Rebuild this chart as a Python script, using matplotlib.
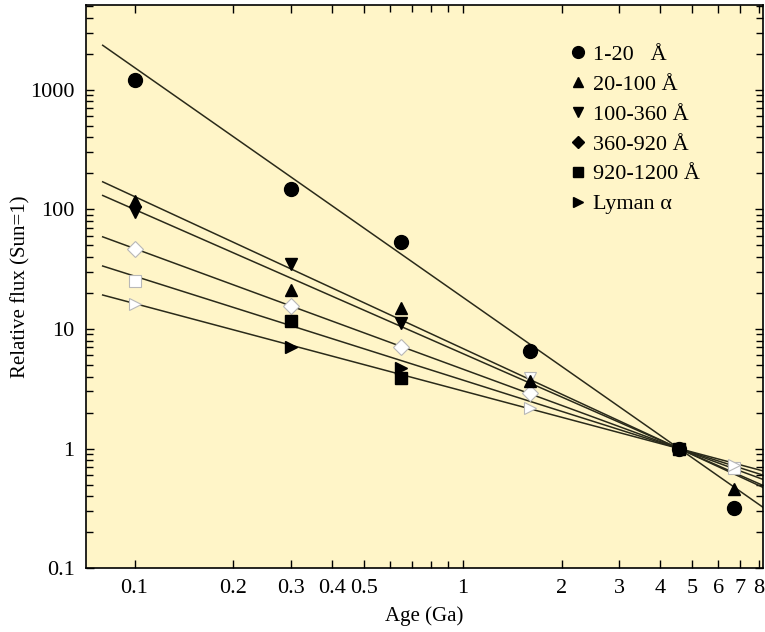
import numpy as np
import matplotlib
matplotlib.use("Agg")
import matplotlib.pyplot as plt
from matplotlib.ticker import FixedLocator, NullFormatter, LogLocator

plt.rcParams['font.family'] = ['Liberation Serif', 'DejaVu Serif']

# bands and marker shapes
bands = ['1-20   Å', '20-100 Å', '100-360 Å', '360-920 Å', '920-1200 Å', 'Lyman α']
shapes = ['o', '^', 'v', 'D', 's', '>']
sizes = [10, 9, 9, 8, 8.5, 9]

# filled points (age in Ga, relative flux)
filled_age = [
    [0.1, 0.3, 0.65, 1.6, 4.56, 6.7],
    [0.1, 0.3, 0.65, 1.6, 6.7],
    [0.1, 0.3, 0.65],
    [],
    [0.3, 0.65, 4.56],
    [0.3, 0.65],
]
filled_flux = [
    [1200, 147, 53, 6.6, 1.0, 0.32],
    [118, 21, 15, 3.7, 0.46],
    [95, 35, 11.3],
    [],
    [11.7, 3.9, 1.0],
    [7.0, 4.7],
]

# open points
open_age = [
    [],
    [],
    [1.6],
    [0.1, 0.3, 0.65, 1.6],
    [0.1, 6.7],
    [0.1, 1.6, 6.7],
]
open_flux = [
    [],
    [],
    [3.9],
    [47, 15.5, 7.0, 2.9],
    [25, 0.69],
    [16.2, 2.2, 0.73],
]

# power-law fit exponents, all normalised to the present Sun
sun_age = 4.56
fit_slope = [-1.92, -1.27, -1.205, -1.008, -0.869, -0.731]

fig = plt.figure(figsize=(7.65, 6.32), dpi=100)
ax = fig.add_axes([0.112, 0.101, 0.885, 0.891])
ax.set_facecolor('#fff5c8')

xfit = np.logspace(np.log10(0.08), np.log10(9), 200)
for s in fit_slope:
    ax.plot(xfit, (xfit / sun_age) ** s, color='#2a2a1a', lw=1.1, zorder=2)

for i in range(len(bands)):
    if open_age[i]:
        ax.plot(open_age[i], open_flux[i], ls='none', marker=shapes[i], ms=sizes[i],
                mfc='white', mec='#b8b8b8', mew=0.8, zorder=3)
    if filled_age[i]:
        ax.plot(filled_age[i], filled_flux[i], ls='none', marker=shapes[i], ms=sizes[i],
                mfc='black', mec='black', zorder=4)

# legend handles
handles = [ax.plot([], [], ls='none', marker=shapes[i], ms=sizes[i] - 1.5,
                   mfc='black', mec='black')[0] for i in range(len(bands))]
ax.legend(handles, bands, loc='upper left', frameon=False, fontsize=16,
          handletextpad=0.2, labelspacing=0.42, handlelength=1.0,
          borderaxespad=0, bbox_to_anchor=(0.697, 0.946))

ax.set_xscale('log')
ax.set_yscale('log')
ax.set_xlim(0.071, 8.2)
ax.set_ylim(0.1, 5100)

xmaj = [0.1, 0.2, 0.3, 0.4, 0.5, 1, 2, 3, 4, 5, 6, 7, 8]
xmin = [0.6, 0.7, 0.8, 0.9]
ax.xaxis.set_major_locator(FixedLocator(xmaj))
ax.xaxis.set_minor_locator(FixedLocator(xmin))
ax.set_xticklabels([str(v) for v in xmaj])
ax.xaxis.set_minor_formatter(NullFormatter())

ymaj = [0.1, 1, 10, 100, 1000]
ax.yaxis.set_major_locator(FixedLocator(ymaj))
ax.set_yticklabels(['0.1', '1', '10', '100', '1000'])
ax.yaxis.set_minor_locator(LogLocator(base=10, subs=np.arange(2, 10), numticks=20))
ax.yaxis.set_minor_formatter(NullFormatter())

ax.tick_params(which='both', direction='in', top=True, right=True, labelsize=16, pad=8)
ax.tick_params(which='major', length=6, width=1)
ax.tick_params(which='minor', length=5, width=1)

for sp in ax.spines.values():
    sp.set_linewidth(1.2)

ax.set_xlabel('Age (Ga)', fontsize=15, labelpad=6)
ax.set_ylabel('Relative flux (Sun=1)', fontsize=15, labelpad=0)

fig.savefig('out.png', dpi=100)
